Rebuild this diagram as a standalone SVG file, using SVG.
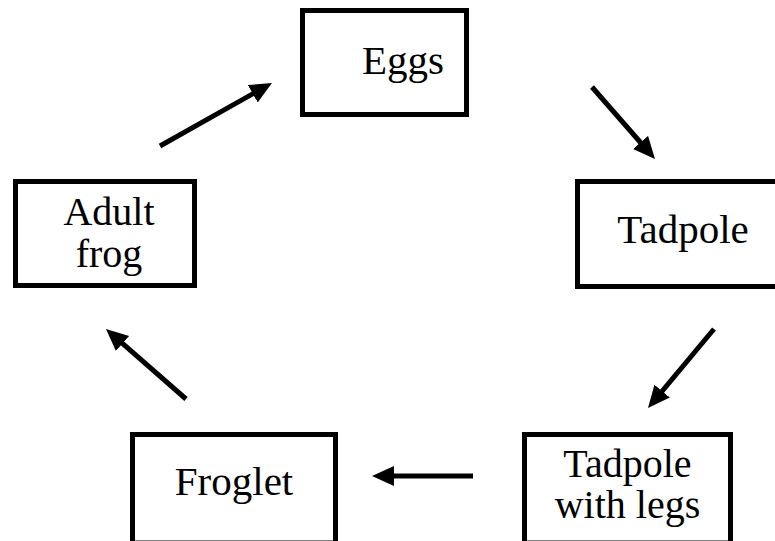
<svg xmlns="http://www.w3.org/2000/svg" width="775" height="541" viewBox="0 0 775 541">
<style>
.box{fill:#fff;stroke:#000;stroke-width:5}
.lbl{font-family:"Liberation Serif","Times New Roman",serif;font-size:41px;fill:#000;text-anchor:middle}
.lbl2{font-family:"Liberation Serif","Times New Roman",serif;font-size:40px;fill:#000;text-anchor:middle}
.arr{stroke:#000;stroke-width:5;fill:none;marker-end:url(#ah)}
</style>
<defs>
<marker id="ah" markerUnits="userSpaceOnUse" markerWidth="24" markerHeight="22" refX="10" refY="10" orient="auto" viewBox="0 0 24 22">
<path d="M0,0 L22,10 L0,20 z" fill="#000"/>
</marker>
</defs>
<rect width="775" height="541" fill="#fff"/>
<g id="eggs">
<rect class="box" x="302.5" y="10.5" width="164" height="104"/>
<text class="lbl" x="403" y="74">Eggs</text>
</g>
<g id="tadpole">
<rect class="box" x="577.5" y="181.5" width="210" height="105"/>
<text class="lbl" x="683" y="243">Tadpole</text>
</g>
<g id="tadpole-legs">
<rect class="box" x="524.5" y="434.5" width="206" height="108.5"/>
<text class="lbl2" x="627.5" y="477">Tadpole</text>
<text class="lbl2" x="627.5" y="518">with legs</text>
</g>
<g id="froglet">
<rect class="box" x="132.5" y="434.5" width="203" height="108.5"/>
<text class="lbl" x="234" y="495">Froglet</text>
</g>
<g id="adult-frog">
<rect class="box" x="15.5" y="181.5" width="179" height="104"/>
<text class="lbl2" x="109" y="225">Adult</text>
<text class="lbl2" x="109" y="267">frog</text>
</g>
<g id="connectors">
<line class="arr" x1="160" y1="146" x2="261.5" y2="88.9"/>
<line class="arr" x1="592" y1="87" x2="647.1" y2="150"/>
<line class="arr" x1="714" y1="329" x2="655.7" y2="398.8"/>
<line class="arr" x1="473" y1="476" x2="384" y2="476"/>
<line class="arr" x1="186" y1="399" x2="115" y2="336.9"/>
</g>
</svg>
